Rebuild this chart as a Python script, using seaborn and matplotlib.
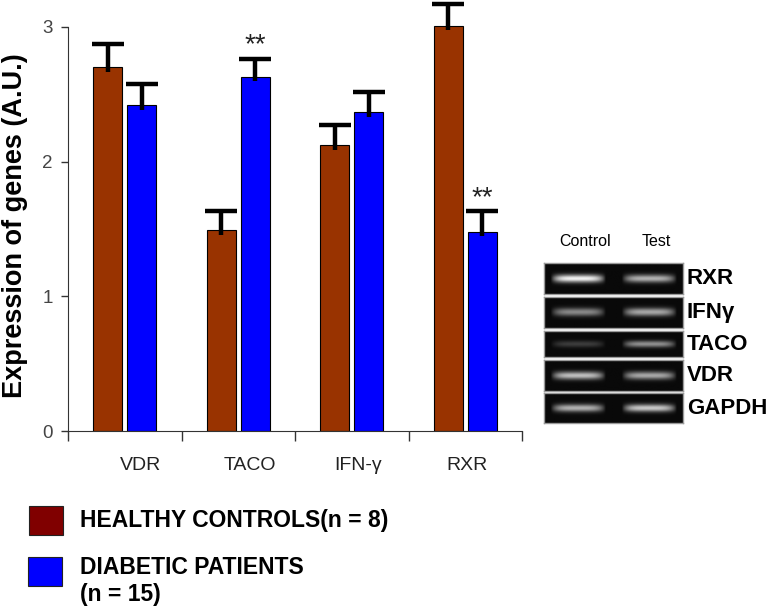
import numpy as np
import pandas as pd
import matplotlib
matplotlib.use("Agg")
import matplotlib.pyplot as plt
import matplotlib.transforms as mtransforms
import seaborn as sns
from matplotlib.patches import Rectangle

# ---- data ----
genes = ["VDR", "TACO", "IFN-\u03b3", "RXR"]
groups = ["HEALTHY CONTROLS", "DIABETIC PATIENTS"]
healthy = [2.70, 1.49, 2.12, 3.01]
healthy_err = [0.17, 0.14, 0.15, 0.16]
diabetic = [2.42, 2.63, 2.37, 1.48]
diabetic_err = [0.16, 0.13, 0.15, 0.15]
signif = ["", "**", "", "**"]  # for diabetic group
yticks = [0, 1, 2, 3]

# gel inset (band intensities, 0..1)
gel_genes = ["RXR", "IFN\u03b3", "TACO", "VDR", "GAPDH"]
gel_lanes = ["Control", "Test"]
gel_control = [1.00, 0.55, 0.22, 0.78, 0.72]
gel_test = [0.72, 0.68, 0.58, 0.68, 0.82]

bar_colors = ["#993300", "#0000FF"]
legend_colors = ["#800000", "#0000FF"]

sns.set_style("white")
plt.rcParams["font.family"] = ["Liberation Sans", "DejaVu Sans"]
plt.rcParams["text.color"] = "black"
plt.rcParams["axes.labelcolor"] = "black"

W, H = 774, 610
fig = plt.figure(figsize=(W / 100, H / 100), dpi=100)

def fx(px):
    return px / W

def fy(py):
    return (H - py) / H

ax = fig.add_axes([fx(68), fy(431), fx(522) - fx(68), 431 / H])

df = pd.DataFrame({
    "gene": genes * 2,
    "group": [groups[0]] * 4 + [groups[1]] * 4,
    "value": healthy + diabetic,
})

sns.barplot(data=df, x="gene", y="value", hue="group", order=genes,
            hue_order=groups, palette=bar_colors, width=0.60, gap=0.14,
            errorbar=None, edgecolor="black", linewidth=0.8, legend=False,
            saturation=1, ax=ax)

errs = [healthy_err, diabetic_err]
bar_conts = list(ax.containers)
for gi, cont in enumerate(bar_conts):
    for bi, bar in enumerate(cont.patches):
        xc = bar.get_x() + bar.get_width() / 2
        h = bar.get_height()
        e = errs[gi][bi]
        # one-sided (upper) error bar with a single cap
        ax.vlines(xc, h - 0.035, h + e, colors="black", linewidth=3.2, zorder=5)
        ax.plot([xc], [h + e], marker="_", markersize=23, markeredgewidth=3.2,
                color="black", zorder=5)
        if gi == 1 and signif[bi]:
            ax.text(xc, h + e + 0.005, signif[bi], ha="center", va="bottom",
                    fontsize=20, color="#222222", zorder=6)

ax.set_xlim(-0.5, 3.5)
ax.set_ylim(0, 3.2)
ax.set_yticks(yticks)
ax.set_yticklabels([str(t) for t in yticks], fontsize=13.5, color="#444444")
ax.tick_params(axis="y", direction="out", length=5, width=1, color="#333333",
               left=True, pad=6)
ax.set_xticks(range(len(genes)))
ax.set_xticklabels(genes, fontsize=14, color="#222222")
ax.tick_params(axis="x", which="major", length=0, pad=19)
ax.set_xticks([-0.5, 0.5, 1.5, 2.5, 3.5], minor=True)
ax.tick_params(axis="x", which="minor", direction="out", length=7, width=1,
               color="#333333", bottom=True)
label_shift_px = [16, 12, 6, 2]
for lab, dx in zip(ax.get_xticklabels(), label_shift_px):
    lab.set_transform(lab.get_transform() +
                      mtransforms.ScaledTranslation(dx / 100, 0, fig.dpi_scale_trans))
for s in ["top", "right"]:
    ax.spines[s].set_visible(False)
ax.spines["left"].set_bounds(0, 3)
ax.spines["left"].set_color("#333333")
ax.spines["bottom"].set_color("#333333")
ax.set_xlabel("")
ax.set_ylabel("Expression of genes (A.U.)", fontsize=19.5, fontweight="bold")
ax.yaxis.set_label_coords(-0.089, 1 - 226 / 431)
ax.patch.set_alpha(0)

# ---- legend (manual) ----
fig.add_artist(Rectangle((fx(29), fy(535)), fx(63) - fx(29), 29 / H,
                         facecolor=legend_colors[0], edgecolor="#222222",
                         linewidth=0.8, transform=fig.transFigure))
fig.add_artist(Rectangle((fx(28), fy(586)), fx(62) - fx(28), 29 / H,
                         facecolor=legend_colors[1], edgecolor="#222222",
                         linewidth=0.8, transform=fig.transFigure))
fig.text(fx(80), fy(521), "HEALTHY CONTROLS(n = 8)", fontsize=16.5,
         fontweight="bold", va="center", ha="left")
fig.text(fx(80), fy(568), "DIABETIC PATIENTS", fontsize=16.5,
         fontweight="bold", va="center", ha="left")
fig.text(fx(80), fy(595), "(n = 15)", fontsize=16.5,
         fontweight="bold", va="center", ha="left")

# ---- gel inset ----
panels = [(263, 294), (297, 328), (331, 357), (360, 391), (393, 423)]
gx0, gx1 = 544, 683
nx = 140
xs = np.linspace(0, 1, nx)
lane_centers = [0.245, 0.76]
lane_half = 0.20
for i, (t, b) in enumerate(panels):
    pax = fig.add_axes([fx(gx0), fy(b), fx(gx1) - fx(gx0), (b - t) / H])
    ny = 40
    ys = np.linspace(-1, 1, ny)
    img = np.zeros((ny, nx))
    for lc, inten in zip(lane_centers, [gel_control[i], gel_test[i]]):
        hx = np.clip(1 - (np.abs(xs - lc) / lane_half) ** 4, 0, 1)
        vy = np.exp(-(ys / 0.26) ** 2)
        img += inten * np.outer(vy, hx)
    img += 0.04
    pax.imshow(img, cmap="gray", vmin=0, vmax=1.1, aspect="auto",
               interpolation="bilinear")
    pax.set_xticks([])
    pax.set_yticks([])
    for s in pax.spines.values():
        s.set_color("#9a9a9a")
        s.set_linewidth(1)
        s.set_visible(True)
    fig.text(fx(687), fy((t + b) / 2), gel_genes[i], fontsize=16,
             fontweight="bold", va="center", ha="left")

fig.text(fx(585), fy(242), gel_lanes[0], fontsize=11.5, ha="center", va="center")
fig.text(fx(656), fy(242), gel_lanes[1], fontsize=11.5, ha="center", va="center")

fig.savefig("out.png", dpi=100, facecolor="white")
